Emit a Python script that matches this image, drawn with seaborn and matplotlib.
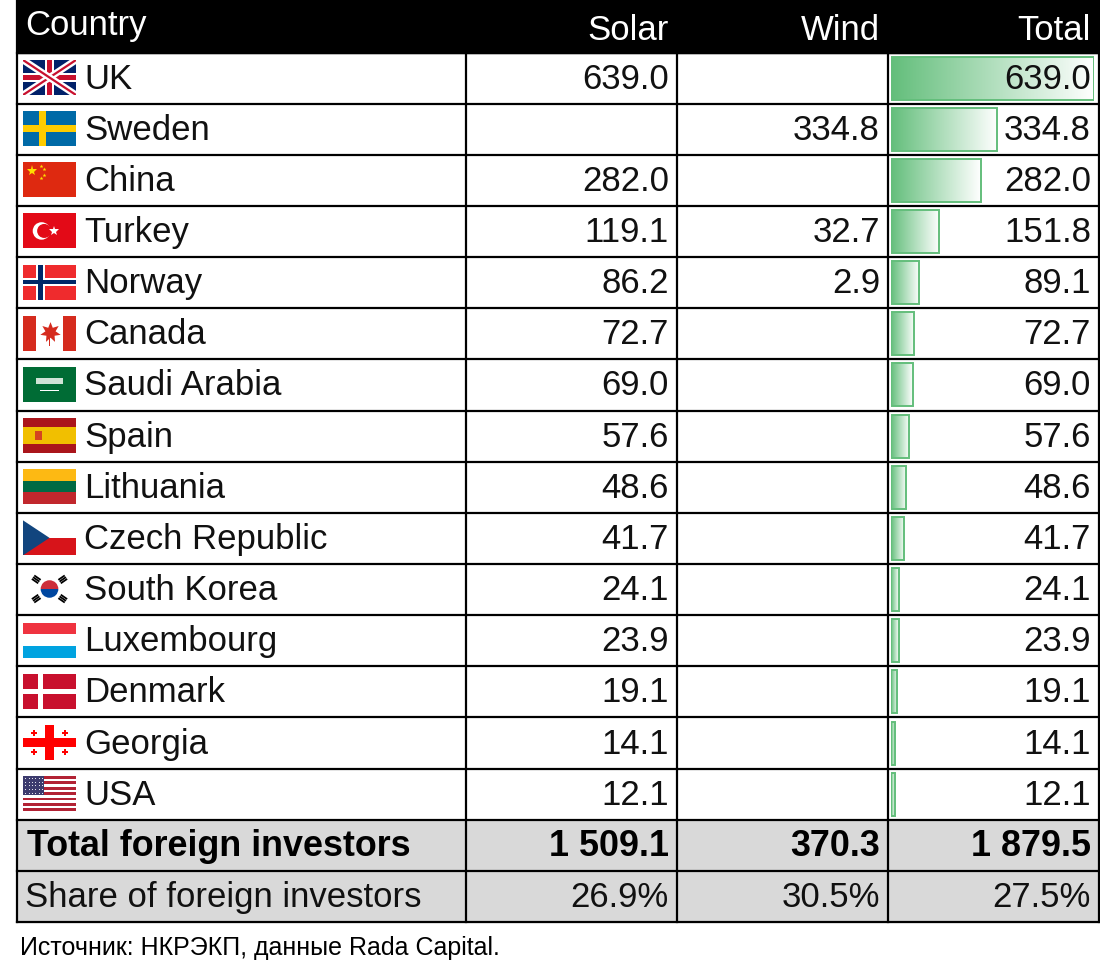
import numpy as np
import pandas as pd
import seaborn as sns
import matplotlib
matplotlib.use("Agg")
from matplotlib import pyplot as plt
from matplotlib.patches import Rectangle, Circle, Polygon, Wedge
from matplotlib.colors import LinearSegmentedColormap

countries = ["UK", "Sweden", "China", "Turkey", "Norway", "Canada", "Saudi Arabia",
             "Spain", "Lithuania", "Czech Republic", "South Korea", "Luxembourg",
             "Denmark", "Georgia", "USA"]
solar = [639.0, None, 282.0, 119.1, 86.2, 72.7, 69.0, 57.6, 48.6, 41.7, 24.1, 23.9, 19.1, 14.1, 12.1]
wind = [None, 334.8, None, 32.7, 2.9, None, None, None, None, None, None, None, None, None, None]
total = [639.0, 334.8, 282.0, 151.8, 89.1, 72.7, 69.0, 57.6, 48.6, 41.7, 24.1, 23.9, 19.1, 14.1, 12.1]
columns = ["Solar", "Wind", "Total"]
foreign_total = [1509.1, 370.3, 1879.5]
foreign_share = [26.9, 30.5, 27.5]
source = "Источник: НКРЭКП, данные Rada Capital."

df = pd.DataFrame({"country": countries, "solar": solar, "wind": wind, "total": total})

sns.set_theme(style="white")
plt.rcParams["font.family"] = ["Liberation Sans", "DejaVu Sans"]

W, H = 1100, 968
fig = plt.figure(figsize=(W / 100, H / 100), dpi=100)
ax = fig.add_axes([0, 0, 1, 1])
ax.set_xlim(0, W)
ax.set_ylim(H, 0)
ax.axis("off")
ax.set_zorder(5)
ax.patch.set_visible(False)

# table geometry (pixels)
left, right = 17, 1099
col_x = [17, 466, 677, 888, 1099]
head_top, head_bot = 0, 52.5
row_h = 51.15
n = len(countries)
fs = 25
fs_bold = 25.8
lw = 1.6
ink = "#111111"


def fmt(v):
    return f"{v:,.1f}".replace(",", " ")


# header
ax.add_patch(Rectangle((left, head_top), right - left, head_bot - head_top, color="black", zorder=1))
ax.text(25, 26, "Country", color="white", fontsize=fs, va="center", ha="left")
for j, c in enumerate(columns):
    ax.text(col_x[j + 2] - 8, 31, c, color="white", fontsize=fs, va="center", ha="right")

# body rows
for i, r in df.iterrows():
    yc = head_bot + (i + 0.5) * row_h
    ax.text(84, yc + 1, r["country"], fontsize=fs, va="center", ha="left", color=ink)
    for j, key in enumerate(["solar", "wind"]):
        v = r[key]
        if pd.notna(v):
            ax.text(col_x[j + 2] - 8, yc + 1, fmt(v), fontsize=fs, va="center", ha="right", color=ink)
    ax.text(col_x[4] - 8, yc + 1, fmt(r["total"]), fontsize=fs, va="center", ha="right", color=ink)

# summary rows
y_tot = head_bot + n * row_h
ax.add_patch(Rectangle((left, y_tot), right - left, 2 * row_h, color="#d9d9d9", zorder=0))
ax.text(27, y_tot + row_h / 2 + 1, "Total foreign investors", fontsize=fs_bold, fontweight="bold",
        va="center", ha="left", color="black")
ax.text(25, y_tot + 1.5 * row_h + 1, "Share of foreign investors", fontsize=fs, va="center", ha="left", color=ink)
for j in range(3):
    ax.text(col_x[j + 2] - 8, y_tot + row_h / 2 + 1, fmt(foreign_total[j]), fontsize=fs_bold, fontweight="bold",
            va="center", ha="right", color="black")
    ax.text(col_x[j + 2] - 8, y_tot + 1.5 * row_h + 1, f"{foreign_share[j]:.1f}%", fontsize=fs,
            va="center", ha="right", color=ink)

bottom = head_bot + (n + 2) * row_h
# grid lines
for i in range(n + 3):
    y = head_bot + i * row_h
    ax.plot([left, right], [y, y], color="black", lw=lw, zorder=3, solid_capstyle="projecting")
for x in col_x:
    ax.plot([x, x], [head_bot if x not in (left, right) else head_top, bottom], color="black", lw=lw, zorder=3,
            solid_capstyle="projecting")

ax.text(20, 948, source, fontsize=18, va="center", ha="left", color="black")

# data bars in Total column
bx0, bx1 = 891, 1094
bax = fig.add_axes([bx0 / W, 1 - (head_bot + n * row_h) / H, (bx1 - bx0) / W, n * row_h / H])
sns.barplot(data=df, x="total", y="country", orient="h", width=0.84, color="#63BE7B", ax=bax)
green = "#63BE7B"
cmap = LinearSegmentedColormap.from_list("bar", [green, "#ffffff"])
grad = np.linspace(0, 1, 256).reshape(1, -1)
for p in bax.patches:
    x0, y0 = p.get_x(), p.get_y()
    w, h = p.get_width(), p.get_height()
    im = bax.imshow(grad, extent=[x0, x0 + w, y0 + h, y0], aspect="auto", cmap=cmap, zorder=1)
    im.set_clip_path(p)
    p.set_facecolor("none")
    p.set_edgecolor(green)
    p.set_linewidth(1.4)
    p.set_zorder(2)
bax.set_xlim(0, max(total))
bax.set_ylim(n - 0.5, -0.5)
bax.axis("off")


# flags
def flag_axes(i):
    top = head_bot + i * row_h + 7.5
    fa = fig.add_axes([23 / W, 1 - (top + 35) / H, 53 / W, 35 / H])
    fa.set_xlim(0, 3)
    fa.set_ylim(0, 2)
    fa.axis("off")
    return fa


def R(fa, x, y, w, h, c, **kw):
    fa.add_patch(Rectangle((x, y), w, h, color=c, lw=0, **kw))


def draw_flag(fa, name):
    if name == "UK":
        R(fa, 0, 0, 3, 2, "#012169")
        for a, b in [((0, 0), (3, 2)), ((0, 2), (3, 0))]:
            fa.plot([a[0], b[0]], [a[1], b[1]], color="white", lw=5, solid_capstyle="butt")
            fa.plot([a[0], b[0]], [a[1], b[1]], color="#C8102E", lw=1.6, solid_capstyle="butt")
        R(fa, 1.25, 0, 0.5, 2, "white")
        R(fa, 0, 0.75, 3, 0.5, "white")
        R(fa, 1.35, 0, 0.3, 2, "#C8102E")
        R(fa, 0, 0.85, 3, 0.3, "#C8102E")
    elif name == "Sweden":
        R(fa, 0, 0, 3, 2, "#006AA7")
        R(fa, 0.92, 0, 0.38, 2, "#FECC00")
        R(fa, 0, 0.8, 3, 0.4, "#FECC00")
    elif name == "China":
        R(fa, 0, 0, 3, 2, "#DE2910")
        fa.plot([0.5], [1.5], marker="*", color="#FFDE00", ms=8, mew=0)
        for x, y in [(1.0, 1.8), (1.2, 1.6), (1.2, 1.3), (1.0, 1.1)]:
            fa.plot([x], [y], marker="*", color="#FFDE00", ms=3, mew=0)
    elif name == "Turkey":
        R(fa, 0, 0, 3, 2, "#E30A17")
        fa.add_patch(Circle((1.05, 1.0), 0.5, color="white", lw=0))
        fa.add_patch(Circle((1.2, 1.0), 0.4, color="#E30A17", lw=0))
        fa.plot([1.75], [1.0], marker="*", color="white", ms=7, mew=0)
    elif name == "Norway":
        R(fa, 0, 0, 3, 2, "#EF2B2D")
        R(fa, 0.75, 0, 0.5, 2, "white")
        R(fa, 0, 0.75, 3, 0.5, "white")
        R(fa, 0.87, 0, 0.26, 2, "#002868")
        R(fa, 0, 0.87, 3, 0.26, "#002868")
    elif name == "Canada":
        R(fa, 0, 0, 3, 2, "white")
        R(fa, 0, 0, 0.75, 2, "#D52B1E")
        R(fa, 2.25, 0, 0.75, 2, "#D52B1E")
        fa.plot([1.5], [1.1], marker=(7, 1, 0), color="#D52B1E", ms=15, mew=0)
        R(fa, 1.47, 0.3, 0.06, 0.5, "#D52B1E")
    elif name == "Saudi Arabia":
        R(fa, 0, 0, 3, 2, "#006C35")
        R(fa, 0.75, 1.0, 1.5, 0.35, "#cfe3d6")
        R(fa, 0.95, 0.6, 1.1, 0.08, "white")
    elif name == "Spain":
        R(fa, 0, 0, 3, 2, "#AA151B")
        R(fa, 0, 0.5, 3, 1.0, "#F1BF00")
        R(fa, 0.7, 0.75, 0.35, 0.5, "#C8102E", alpha=0.7)
    elif name == "Lithuania":
        R(fa, 0, 1.33, 3, 0.67, "#FDB913")
        R(fa, 0, 0.67, 3, 0.67, "#006A44")
        R(fa, 0, 0, 3, 0.67, "#C1272D")
    elif name == "Czech Republic":
        R(fa, 0, 1, 3, 1, "white")
        R(fa, 0, 0, 3, 1, "#D7141A")
        fa.add_patch(Polygon([(0, 0), (0, 2), (1.5, 1)], color="#11457E", lw=0))
    elif name == "South Korea":
        R(fa, 0, 0, 3, 2, "white")
        fa.add_patch(Wedge((1.5, 1.0), 0.5, 0, 180, color="#CD2E3A", lw=0))
        fa.add_patch(Wedge((1.5, 1.0), 0.5, 180, 360, color="#0047A0", lw=0))
        for cx, cy, ang in [(0.75, 1.55, -35), (2.25, 1.55, 35), (0.75, 0.45, 35), (2.25, 0.45, -35)]:
            t = np.deg2rad(ang)
            for k in (-1, 0, 1):
                dx, dy = 0.12 * k * np.sin(t), -0.12 * k * np.cos(t)
                fa.plot([cx + dx - 0.22 * np.cos(t), cx + dx + 0.22 * np.cos(t)],
                        [cy + dy - 0.22 * np.sin(t), cy + dy + 0.22 * np.sin(t)],
                        color="black", lw=1.3, solid_capstyle="butt")
    elif name == "Luxembourg":
        R(fa, 0, 1.33, 3, 0.67, "#EF3340")
        R(fa, 0, 0.67, 3, 0.67, "white")
        R(fa, 0, 0, 3, 0.67, "#00A3E0")
    elif name == "Denmark":
        R(fa, 0, 0, 3, 2, "#C8102E")
        R(fa, 0.85, 0, 0.3, 2, "white")
        R(fa, 0, 0.85, 3, 0.3, "white")
    elif name == "Georgia":
        R(fa, 0, 0, 3, 2, "white")
        R(fa, 1.25, 0, 0.5, 2, "#FF0000")
        R(fa, 0, 0.75, 3, 0.5, "#FF0000")
        for x, y in [(0.6, 1.55), (2.4, 1.55), (0.6, 0.45), (2.4, 0.45)]:
            fa.plot([x], [y], marker="P", color="#FF0000", ms=5, mew=0)
    elif name == "USA":
        for k in range(13):
            R(fa, 0, 2 - (k + 1) * 2 / 13, 3, 2 / 13, "#B22234" if k % 2 == 0 else "white")
        R(fa, 0, 2 - 7 * 2 / 13, 1.2, 7 * 2 / 13, "#3C3B6E")
        xs, ys = np.meshgrid(np.linspace(0.12, 1.08, 6), np.linspace(1.05, 1.9, 5))
        fa.scatter(xs.ravel(), ys.ravel(), s=0.6, color="white", lw=0)


for i, c in enumerate(countries):
    draw_flag(flag_axes(i), c)

fig.savefig("out.png", dpi=100)
